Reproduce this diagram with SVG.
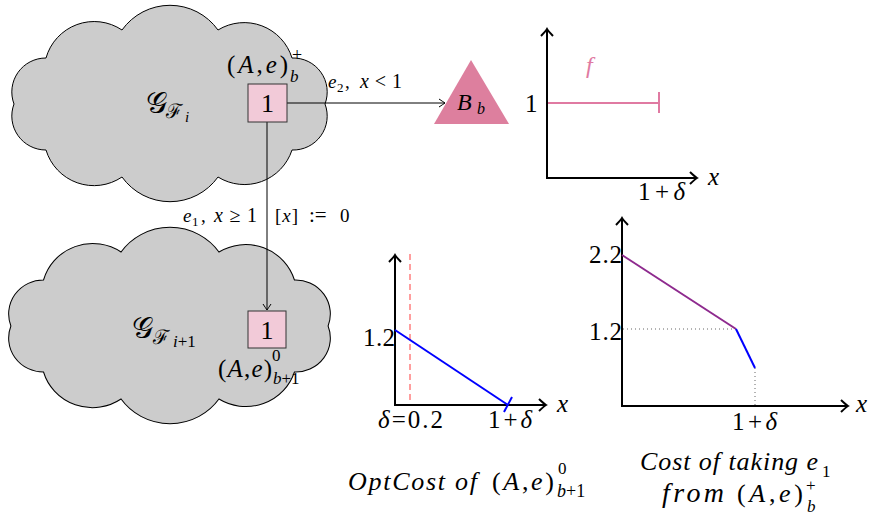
<svg xmlns="http://www.w3.org/2000/svg" width="871" height="518" viewBox="0 0 871 518">
<style>
.m{font-family:"Liberation Serif","DejaVu Serif",serif;fill:#000}
.i{font-style:italic}
.cloud{fill:#cccccc;stroke:#000;stroke-width:1}
.box{fill:#f2cad8;stroke:#333;stroke-width:1}
.edge{fill:none;stroke:#000;stroke-width:1;marker-end:url(#arr)}
.axis{fill:none;stroke:#000;stroke-width:2;marker-end:url(#ax)}
</style>
<defs>
<marker id="arr" viewBox="-8 -5 9 10" refX="0" refY="0" markerWidth="9" markerHeight="10" markerUnits="userSpaceOnUse" orient="auto"><path d="M-6,-4 Q-1.5,-1 0,0 Q-1.5,1 -6,4" fill="none" stroke="#000" stroke-width="1"/></marker>
<marker id="ax" viewBox="-10 -8 12 16" refX="0" refY="0" markerWidth="12" markerHeight="16" markerUnits="userSpaceOnUse" orient="auto"><path d="M-7,-6 Q-2,-1.2 0,0 Q-2,1.2 -7,6" fill="none" stroke="#000" stroke-width="2"/></marker>
<path id="cloudShape" d="M14,104 A34,34 0 0 1 46,58 A50,50 0 0 1 122,30 A59,59 0 0 1 218,30 A50,50 0 0 1 292,58 A34,34 0 0 1 325,104 A34,34 0 0 1 292,150 A50,50 0 0 1 218,177 A59,59 0 0 1 122,177 A50,50 0 0 1 46,150 A34,34 0 0 1 14,104 Z"/>
</defs>

<g id="cloud-i">
<use href="#cloudShape" class="cloud"/>
<text class="m" x="146" y="113" font-size="30">𝒢</text>
<text class="m" x="166" y="118" font-size="20">ℱ</text>
<text class="m i" x="185" y="122" font-size="15">i</text>
</g>

<g id="cloud-i1">
<use href="#cloudShape" class="cloud" transform="translate(-3.4,222) scale(1.02,1)"/>
<text class="m" x="132" y="338" font-size="30">𝒢</text>
<text class="m" x="153" y="344" font-size="20">ℱ</text>
<text class="m" x="173" y="347" font-size="17"><tspan class="i">i</tspan>+1</text>
</g>

<g id="connectors">
<line class="edge" x1="287" y1="103" x2="445" y2="103"/>
<line class="edge" x1="267" y1="122" x2="267" y2="310"/>
<text class="m i" x="328" y="88" font-size="19">e</text>
<text class="m" x="337" y="92" font-size="13">2</text>
<text class="m" x="345" y="88" font-size="19">,</text>
<text class="m" x="360" y="88" font-size="20" textLength="42" lengthAdjust="spacing"><tspan class="i">x</tspan>&lt;1</text>
<text class="m i" x="183" y="222" font-size="19">e</text>
<text class="m" x="192" y="226" font-size="13">1</text>
<text class="m" x="201" y="222" font-size="19">,</text>
<text class="m" x="214" y="222" font-size="20" textLength="43" lengthAdjust="spacing"><tspan class="i">x</tspan>≥1</text>
<text class="m" x="275" y="222" font-size="19" textLength="23" lengthAdjust="spacing">[<tspan class="i">x</tspan>]</text>
<text class="m" x="309" y="222" font-size="21">:=</text>
<text class="m" x="340" y="222" font-size="19">0</text>
</g>

<g id="node-top">
<rect class="box" x="248" y="84" width="39" height="38"/>
<text class="m" x="267.5" y="112" font-size="26" text-anchor="middle">1</text>
<text class="m" x="227" y="73" font-size="25" textLength="61" lengthAdjust="spacing">(<tspan class="i">A</tspan>,<tspan class="i">e</tspan>)</text>
<text class="m i" x="290" y="82" font-size="17">b</text>
<text class="m" x="292" y="61" font-size="18">+</text>
</g>

<g id="node-bottom">
<rect class="box" x="248" y="311" width="38" height="37"/>
<text class="m" x="267" y="339" font-size="26" text-anchor="middle">1</text>
<text class="m" x="218" y="377" font-size="25" textLength="54" lengthAdjust="spacing">(<tspan class="i">A</tspan>,<tspan class="i">e</tspan>)</text>
<text class="m" x="272" y="361" font-size="17">0</text>
<text class="m" x="273" y="384" font-size="17"><tspan class="i">b</tspan>+1</text>
</g>

<g id="node-B">
<polygon points="471,60 434,124 509,124" fill="#dd7f9e"/>
<text class="m i" x="457" y="110" font-size="24">B</text>
<text class="m i" x="477" y="114" font-size="16">b</text>
</g>

<g id="graph-f">
<line class="axis" x1="547" y1="178" x2="547" y2="29"/>
<line class="axis" x1="546" y1="178" x2="697" y2="178"/>
<line x1="548" y1="103" x2="659" y2="103" stroke="#e07aa2" stroke-width="2"/>
<line x1="659" y1="92" x2="659" y2="113" stroke="#e07aa2" stroke-width="2"/>
<text class="m i" x="586" y="73" font-size="24" style="fill:#e07aa2">f</text>
<text class="m" x="525" y="112" font-size="25">1</text>
<text class="m" x="638" y="200" font-size="25" textLength="47" lengthAdjust="spacing">1+<tspan class="i">δ</tspan></text>
<text class="m i" x="708" y="185" font-size="25">x</text>
</g>

<g id="graph-opt">
<line x1="410" y1="254" x2="410" y2="405" stroke="#ff6b6b" stroke-width="1.3" stroke-dasharray="6,4"/>
<line x1="401" y1="405" x2="418" y2="405" stroke="#e03030" stroke-width="2"/>
<line class="axis" x1="395" y1="406" x2="395" y2="255"/>
<line class="axis" x1="394" y1="405" x2="546" y2="405"/>
<line x1="395" y1="330" x2="508" y2="405" stroke="#0000ff" stroke-width="2"/>
<line x1="504" y1="412" x2="512" y2="397" stroke="#0000ff" stroke-width="2"/>
<text class="m" x="363" y="346" font-size="25" textLength="32" lengthAdjust="spacing">1.2</text>
<text class="m" x="378" y="428" font-size="25" textLength="65" lengthAdjust="spacing"><tspan class="i">δ</tspan>=0.2</text>
<text class="m" x="488" y="428" font-size="25" textLength="44" lengthAdjust="spacing">1+<tspan class="i">δ</tspan></text>
<text class="m i" x="557" y="412" font-size="25">x</text>
</g>

<g id="graph-cost">
<line x1="623" y1="329" x2="736" y2="329" stroke="#666" stroke-width="1" stroke-dasharray="1,3"/>
<line x1="755" y1="368" x2="755" y2="405" stroke="#666" stroke-width="1" stroke-dasharray="1,3"/>
<line class="axis" x1="622" y1="407" x2="622" y2="218"/>
<line class="axis" x1="621" y1="406" x2="848" y2="406"/>
<line x1="622" y1="255" x2="736" y2="329" stroke="#8e2a8e" stroke-width="2"/>
<line x1="736" y1="329" x2="755" y2="368" stroke="#0000ff" stroke-width="2"/>
<text class="m" x="589" y="263" font-size="25" textLength="33" lengthAdjust="spacing">2.2</text>
<text class="m" x="589" y="340" font-size="25" textLength="33" lengthAdjust="spacing">1.2</text>
<text class="m" x="732" y="430" font-size="25" textLength="45" lengthAdjust="spacing">1+<tspan class="i">δ</tspan></text>
<text class="m i" x="856" y="412" font-size="25">x</text>
</g>

<g id="captions">
<text class="m i" x="348" y="490" font-size="26" textLength="129" lengthAdjust="spacing">OptCost of</text>
<text class="m" x="492" y="490" font-size="26" textLength="62" lengthAdjust="spacing">(<tspan class="i">A</tspan>,<tspan class="i">e</tspan>)</text>
<text class="m" x="558" y="474" font-size="17">0</text>
<text class="m" x="557" y="497" font-size="18"><tspan class="i">b</tspan>+1</text>
<text class="m i" x="640" y="470" font-size="26" textLength="178" lengthAdjust="spacing">Cost of taking e</text>
<text class="m" x="822" y="477" font-size="17">1</text>
<text class="m i" x="662" y="502" font-size="28" textLength="62" lengthAdjust="spacing">from</text>
<text class="m" x="737" y="502" font-size="26" textLength="66" lengthAdjust="spacing">(<tspan class="i">A</tspan>,<tspan class="i">e</tspan>)</text>
<text class="m" x="806" y="491" font-size="17">+</text>
<text class="m i" x="807" y="512" font-size="17">b</text>
</g>
</svg>
